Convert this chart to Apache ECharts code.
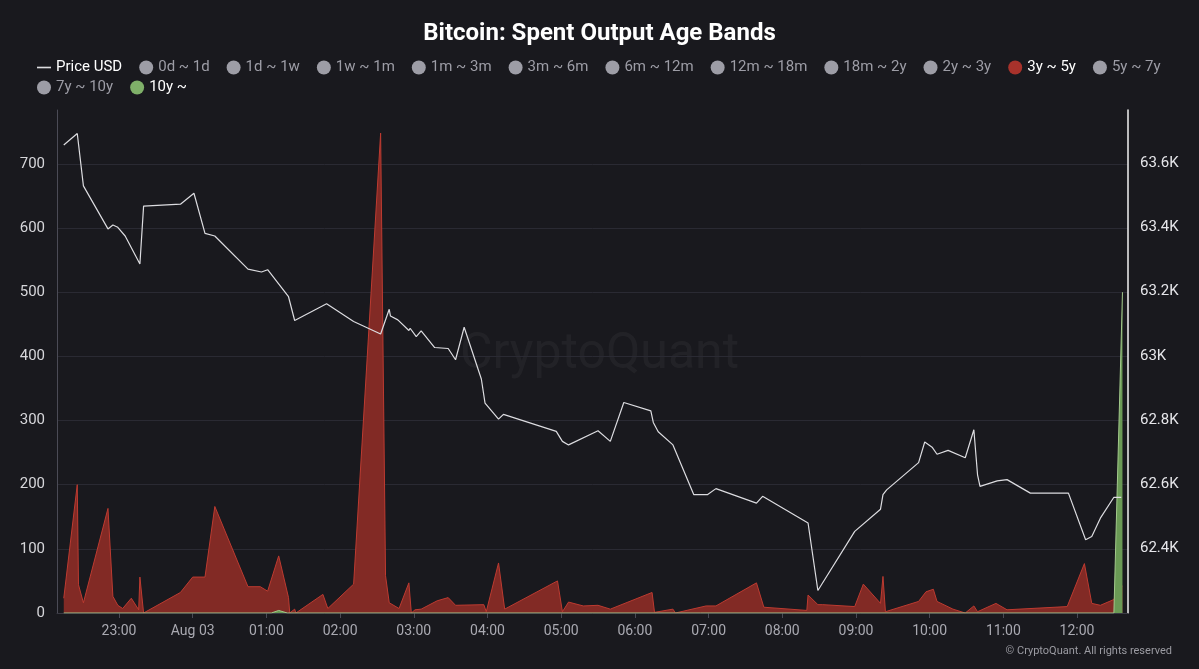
<!DOCTYPE html>
<html>
<head>
<meta charset="utf-8">
<script src="https://cdn.jsdelivr.net/npm/echarts@6/dist/echarts.min.js"></script>
<style>
html,body{margin:0;padding:0;background:#19191e;}
#chart{width:1199px;height:669px;}
</style>
</head>
<body>
<div id="chart"></div>
<script>
// ---- Data ----
const bandNames = ['0d ~ 1d','1d ~ 1w','1w ~ 1m','1m ~ 3m','3m ~ 6m','6m ~ 12m','12m ~ 18m','18m ~ 2y','2y ~ 3y','3y ~ 5y','5y ~ 7y','7y ~ 10y','10y ~'];
const activeBands = ['3y ~ 5y','10y ~'];

const priceTimes = ['2024-08-02 22:15','2024-08-02 22:26','2024-08-02 22:31','2024-08-02 22:51','2024-08-02 22:55','2024-08-02 22:59','2024-08-02 23:05','2024-08-02 23:17','2024-08-02 23:20','2024-08-02 23:50',
'2024-08-03 00:01','2024-08-03 00:10','2024-08-03 00:18','2024-08-03 00:45','2024-08-03 00:56','2024-08-03 01:01','2024-08-03 01:18','2024-08-03 01:19','2024-08-03 01:23','2024-08-03 01:49',
'2024-08-03 02:11','2024-08-03 02:33','2024-08-03 02:40','2024-08-03 02:41','2024-08-03 02:47','2024-08-03 02:56','2024-08-03 02:57','2024-08-03 03:02','2024-08-03 03:06','2024-08-03 03:17',
'2024-08-03 03:28','2024-08-03 03:34','2024-08-03 03:41','2024-08-03 03:55','2024-08-03 03:58','2024-08-03 04:09','2024-08-03 04:13','2024-08-03 04:56','2024-08-03 05:01','2024-08-03 05:06',
'2024-08-03 05:30','2024-08-03 05:40','2024-08-03 05:51','2024-08-03 06:13','2024-08-03 06:15','2024-08-03 06:19','2024-08-03 06:31','2024-08-03 06:48','2024-08-03 06:59','2024-08-03 07:06',
'2024-08-03 07:39','2024-08-03 07:44','2024-08-03 08:21','2024-08-03 08:29','2024-08-03 08:59','2024-08-03 09:20','2024-08-03 09:22','2024-08-03 09:25','2024-08-03 09:51','2024-08-03 09:56',
'2024-08-03 10:02','2024-08-03 10:06','2024-08-03 10:15','2024-08-03 10:29','2024-08-03 10:36','2024-08-03 10:39','2024-08-03 10:41','2024-08-03 10:55','2024-08-03 11:03','2024-08-03 11:22',
'2024-08-03 11:53','2024-08-03 12:07','2024-08-03 12:12','2024-08-03 12:19','2024-08-03 12:30','2024-08-03 12:36'];
const priceValues = [63656,63692,63529,63395,63407,63400,63373,63286,63466,63472,
63506,63381,63373,63270,63261,63268,63184,63187,63110,63162,
63107,63068,63145,63124,63112,63079,63086,63060,63078,63026,
63023,62988,63089,62928,62853,62803,62818,62765,62734,62723,
62767,62734,62855,62829,62793,62764,62723,62568,62568,62587,
62542,62563,62480,62270,62454,62523,62568,62583,62668,62732,
62716,62694,62706,62683,62770,62630,62594,62611,62615,62573,
62573,62428,62438,62495,62560,62560];

const band35Times = ['2024-08-02 22:15','2024-08-02 22:26','2024-08-02 22:27','2024-08-02 22:31','2024-08-02 22:51','2024-08-02 22:55','2024-08-02 22:59','2024-08-02 23:03','2024-08-02 23:10','2024-08-02 23:16',
'2024-08-02 23:17','2024-08-02 23:20','2024-08-02 23:50','2024-08-03 00:00','2024-08-03 00:10','2024-08-03 00:18','2024-08-03 00:45','2024-08-03 00:55','2024-08-03 01:01','2024-08-03 01:10',
'2024-08-03 01:18','2024-08-03 01:19','2024-08-03 01:23','2024-08-03 01:24','2024-08-03 01:46','2024-08-03 01:50','2024-08-03 02:11','2024-08-03 02:33','2024-08-03 02:37','2024-08-03 02:40',
'2024-08-03 02:48','2024-08-03 02:56','2024-08-03 02:58','2024-08-03 03:01','2024-08-03 03:06','2024-08-03 03:19','2024-08-03 03:28','2024-08-03 03:34','2024-08-03 03:57','2024-08-03 03:59',
'2024-08-03 04:09','2024-08-03 04:14','2024-08-03 04:57','2024-08-03 05:01','2024-08-03 05:06','2024-08-03 05:18','2024-08-03 05:30','2024-08-03 05:40','2024-08-03 06:14','2024-08-03 06:16',
'2024-08-03 06:31','2024-08-03 06:33','2024-08-03 06:58','2024-08-03 07:06','2024-08-03 07:39','2024-08-03 07:45','2024-08-03 08:20','2024-08-03 08:21','2024-08-03 08:29','2024-08-03 08:33',
'2024-08-03 08:59','2024-08-03 09:06','2024-08-03 09:20','2024-08-03 09:22','2024-08-03 09:24','2024-08-03 09:51','2024-08-03 09:57','2024-08-03 10:03','2024-08-03 10:06','2024-08-03 10:19',
'2024-08-03 10:29','2024-08-03 10:36','2024-08-03 10:39','2024-08-03 10:54','2024-08-03 11:03','2024-08-03 11:52','2024-08-03 12:06','2024-08-03 12:12','2024-08-03 12:19','2024-08-03 12:30',
'2024-08-03 12:34','2024-08-03 12:37'];
const band35Values = [23,200,44,16,163,26,12,7,23,5,
56,0,32,56,56,166,41,41,34,89,
24,0,6,0,29,7,45,748,58,16,
7,47,0,5,6,19,24,12,13,2,
78,6,50,2,17,11,12,6,32,1,
6,0,11,11,47,9,4,28,13,13,
10,45,15,57,2,18,33,37,18,6,
0,11,2,15,5,10,77,15,12,21,
38,42];

const band10Times = ['2024-08-02 22:15','2024-08-03 01:04','2024-08-03 01:10','2024-08-03 01:17','2024-08-03 12:30','2024-08-03 12:37'];
const band10Values = [0,0,4,0,0,500];

const leftTicks = [0,100,200,300,400,500,600,700];
const rightTickLabels = {62400:'62.4K',62600:'62.6K',62800:'62.8K',63000:'63K',63200:'63.2K',63400:'63.4K',63600:'63.6K'};

// ---- Chart ----
const FONT = 'Roboto, "Noto Sans", sans-serif';
const chart = echarts.init(document.getElementById('chart'));
const pairs = (t, v) => t.map((s, i) => [s, v[i]]);

const selected = {'Price USD': true};
bandNames.forEach(n => selected[n] = activeBands.includes(n));

const bandSeries = bandNames.map(n => {
  let data = [];
  let color = '#a5a5ae';
  let line = '#a5a5ae';
  let area = '#a5a5ae';
  let z = 2;
  if (n === '3y ~ 5y') { data = pairs(band35Times, band35Values); color = '#a8322b'; line = '#bd3b31'; area = '#822a25'; z = 2; }
  if (n === '10y ~') { data = pairs(band10Times, band10Values); color = '#7fb069'; line = '#a3c98c'; area = '#6a9a55'; z = 3; }
  return {
    name: n, type: 'line', yAxisIndex: 0, data: data, symbol: 'none', z: z,
    itemStyle: {color: color},
    lineStyle: {color: line, width: 1},
    areaStyle: {color: area, opacity: 1}
  };
});

const legendBase = {
  icon: 'circle',
  itemWidth: 14, itemHeight: 14, itemGap: 17,
  textStyle: {color: '#ffffff', fontSize: 15, fontFamily: FONT},
  inactiveColor: '#9d9da6',
  selected: selected
};
const row1 = [{name: 'Price USD', icon: 'path://M0,0H12V1.4H0Z'}].concat(bandNames.slice(0, 11).map(n => ({name: n})));
const row2 = bandNames.slice(11).map(n => ({name: n}));

const option = {
  backgroundColor: '#19191e',
  animation: false,
  textStyle: {fontFamily: FONT},
  title: {
    text: 'Bitcoin: Spent Output Age Bands',
    left: 'center', top: 17,
    textStyle: {color: '#ffffff', fontSize: 24, fontWeight: 'bold', fontFamily: FONT}
  },
  legend: [
    Object.assign({}, legendBase, {left: 32, top: 55, data: row1}),
    Object.assign({}, legendBase, {left: 32, top: 75, data: row2})
  ],
  grid: {left: 57, right: 71, top: 110, bottom: 56},
  xAxis: {
    type: 'time',
    min: '2024-08-02 22:09:30',
    max: '2024-08-03 12:41:30',
    minInterval: 3600000,
    maxInterval: 3600000,
    axisLine: {show: true, lineStyle: {color: '#3a3a44'}},
    axisTick: {show: true, length: 5, lineStyle: {color: '#4a4a55'}},
    splitLine: {show: false},
    axisLabel: {
      color: '#a9a9b1', fontSize: 14, margin: 11, fontFamily: FONT,
      showMinLabel: false, showMaxLabel: false,
      formatter: function (v) {
        const d = new Date(v);
        const hh = String(d.getHours()).padStart(2, '0');
        const mm = String(d.getMinutes()).padStart(2, '0');
        if (d.getHours() === 0 && d.getMinutes() === 0) {
          return 'Aug ' + String(d.getDate()).padStart(2, '0');
        }
        return hh + ':' + mm;
      }
    }
  },
  yAxis: [
    {
      type: 'value', position: 'left', min: 0, max: 784, interval: 100,
      axisLine: {show: true, lineStyle: {color: '#4b4b56', width: 1}},
      axisTick: {show: false},
      splitLine: {show: true, showMaxLine: false, lineStyle: {color: '#2a2a33', width: 1}},
      axisLabel: {
        color: '#d6d6da', fontSize: 15, margin: 12, fontFamily: FONT,
        formatter: v => leftTicks.includes(v) ? String(v) : ''
      }
    },
    {
      type: 'value', position: 'right', min: 62200, max: 63765, interval: 200,
      axisLine: {show: true, lineStyle: {color: '#f2f2f2', width: 1.5}},
      axisTick: {show: false},
      splitLine: {show: false},
      axisLabel: {
        color: '#e6e6ea', fontSize: 15, margin: 12, fontFamily: FONT,
        formatter: v => rightTickLabels[v] || ''
      }
    }
  ],
  graphic: [
    {
      type: 'text', left: 'center', top: 330, z: 0, silent: true,
      style: {text: 'CryptoQuant', fill: 'rgba(255,255,255,0.045)', font: '50px ' + FONT}
    },
    {
      type: 'text', right: 27, top: 646, silent: true,
      style: {text: '© CryptoQuant. All rights reserved', fill: '#9b9ba2', font: '11px ' + FONT}
    }
  ],
  series: [
    {
      name: 'Price USD', type: 'line', yAxisIndex: 1, symbol: 'none', z: 5,
      data: pairs(priceTimes, priceValues),
      itemStyle: {color: '#dcdce0'},
      lineStyle: {color: '#dcdce0', width: 1.2}
    }
  ].concat(bandSeries)
};
chart.setOption(option);
</script>
</body>
</html>
